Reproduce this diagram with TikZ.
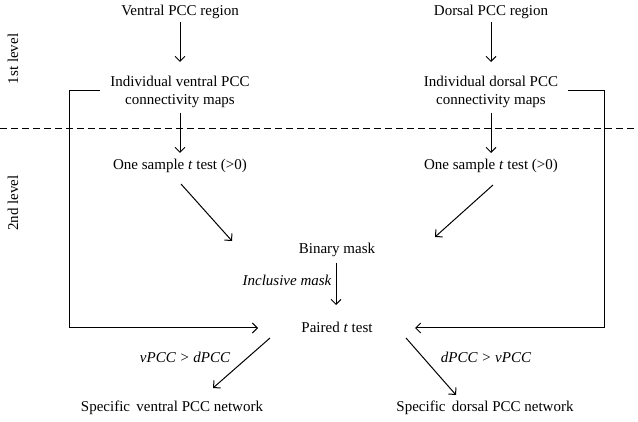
\documentclass[tikz,border=0pt]{standalone}
\usepackage{fontspec}
\setmainfont{Liberation Serif}
\usetikzlibrary{arrows.meta,calc}
\begin{document}
\begin{tikzpicture}[x=1pt,y=1pt,
  every node/.style={inner sep=0pt,font=\fontsize{15}{18}\selectfont},
  arr/.style={line width=1pt,-{Straight Barb[length=5pt,width=10pt,line width=1pt]}},
  lbl/.style={font=\fontsize{15}{18}\selectfont\itshape}]
\useasboundingbox (0,0) rectangle (638,421);
% nodes
\node (vr) at (180,409) {Ventral PCC region};
\node (dr) at (491,409) {Dorsal PCC region};
\node[align=center] (ivm) at (180,329) {Individual ventral PCC\\connectivity maps};
\node[align=center] (idm) at (491,329) {Individual dorsal PCC\\connectivity maps};
\node (ost1) at (180,255) {One sample \textit{t} test (>0)};
\node (ost2) at (491,255) {One sample \textit{t} test (>0)};
\node (bm) at (337,171) {Binary mask};
\node (pt) at (337,94) {Paired \textit{t} test};
\node (sv) at (172,13) {Specific\, ventral PCC network};
\node (sd) at (485,13) {Specific\, dorsal PCC network};
\node[lbl] (incl) at (287,141) {Inclusive mask};
\node[lbl] (vd) at (185,64) {vPCC > dPCC};
\node[lbl] (dv) at (486,64) {dPCC > vPCC};
\node[rotate=90] (l1) at (13,362) {1st level};
\node[rotate=90] (l2) at (13,218) {2nd level};
% dashed separator
\coordinate (dl) at (0,293);
\coordinate (dr2) at (638,293);
\draw[line width=0.9pt,dash pattern=on 7pt off 4pt] (dl) -- (dr2);
% arrows
\draw[arr] ($(vr)+(0,-10)$) -- ($(ivm)+(0,30)$);
\draw[arr] ($(dr)+(0,-10)$) -- ($(idm)+(0,30)$);
\draw[arr] ($(ivm)+(0,-21)$) -- ($(ost1)+(0,13)$);
\draw[arr] ($(idm)+(0,-21)$) -- ($(ost2)+(0,13)$);
\draw[arr] ($(ost1)+(1,-18)$) -- ($(bm)+(-105,9)$);
\draw[arr] ($(ost2)+(2,-19)$) -- ($(bm)+(98,13)$);
\draw[arr] ($(bm)+(-1,-13)$) -- ($(pt)+(-1,22)$);
\draw[arr] ($(ivm)+(-80,1)$) -- ++(-31,0) |- ($(pt)+(-79,-1)$);
\draw[arr] ($(idm)+(77,1)$) -- ++(36,0) |- ($(pt)+(78,-1)$);
\draw[arr] ($(pt)+(-67,-11)$) -- ($(sv)+(41,20)$);
\draw[arr] ($(pt)+(69,-11)$) -- ($(sd)+(-29,13)$);
\end{tikzpicture}
\end{document}
